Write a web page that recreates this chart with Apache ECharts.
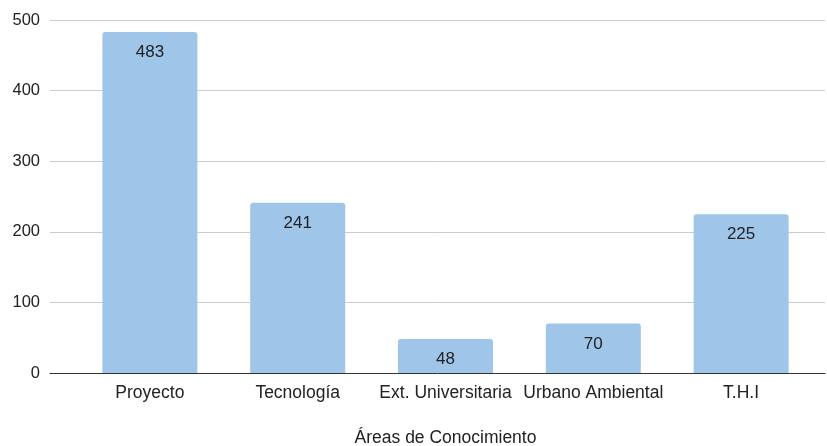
<!DOCTYPE html>
<html><head><meta charset="utf-8">
<script src="https://cdn.jsdelivr.net/npm/echarts@6/dist/echarts.min.js"></script>
<style>html,body{margin:0;padding:0;background:#fff}#c{width:827px;height:446px}</style>
</head><body><div id="c"></div>
<script>
const categories = ['Proyecto', 'Tecnología', 'Ext. Universitaria', 'Urbano Ambiental', 'T.H.I'];
const values = [483, 241, 48, 70, 225];
const yTicks = { min: 0, max: 500, interval: 100 };
const axisTitle = 'Áreas de Conocimiento';

const chart = echarts.init(document.getElementById('c'));
const font = 'Arial, "Liberation Sans", sans-serif';
chart.setOption({
  animation: false,
  grid: [
    { left: 50, right: 2, top: 20, bottom: 73, containLabel: false, outerBoundsMode: 'none' },
    { left: 76, right: 12, top: 20, bottom: 73, containLabel: false, outerBoundsMode: 'none' }
  ],
  xAxis: [
    { gridIndex: 0, type: 'category', data: categories, boundaryGap: true,
      axisLine: { show: true, lineStyle: { color: '#333', width: 1 } },
      axisTick: { show: false }, axisLabel: { show: false }, splitLine: { show: false }, z: 5 },
    { gridIndex: 1, type: 'category', data: categories,
      axisLine: { show: false }, axisTick: { show: false },
      axisLabel: { color: '#222', fontSize: 17.5, fontFamily: font, margin: 11, interval: 0 },
      name: axisTitle, nameLocation: 'middle', nameGap: 56,
      nameTextStyle: { color: '#222', fontSize: 17.5, fontFamily: font } }
  ],
  yAxis: [
    { gridIndex: 0, type: 'value', min: yTicks.min, max: yTicks.max, interval: yTicks.interval,
      axisLine: { show: false }, axisTick: { show: false },
      axisLabel: { color: '#222', fontSize: 16.5, fontFamily: font, margin: 10 },
      splitLine: { lineStyle: { color: '#cccccc', width: 1 } } },
    { gridIndex: 1, type: 'value', min: yTicks.min, max: yTicks.max, interval: yTicks.interval,
      show: false, splitLine: { show: false } }
  ],
  series: [{
    type: 'bar', xAxisIndex: 1, yAxisIndex: 1, data: values,
    barWidth: 95,
    itemStyle: { color: '#9fc5e8', borderRadius: [3, 3, 0, 0] },
    label: { show: true, position: 'insideTop', distance: 12, color: '#222',
      fontSize: 17, fontFamily: font }
  }]
});
</script></body></html>
